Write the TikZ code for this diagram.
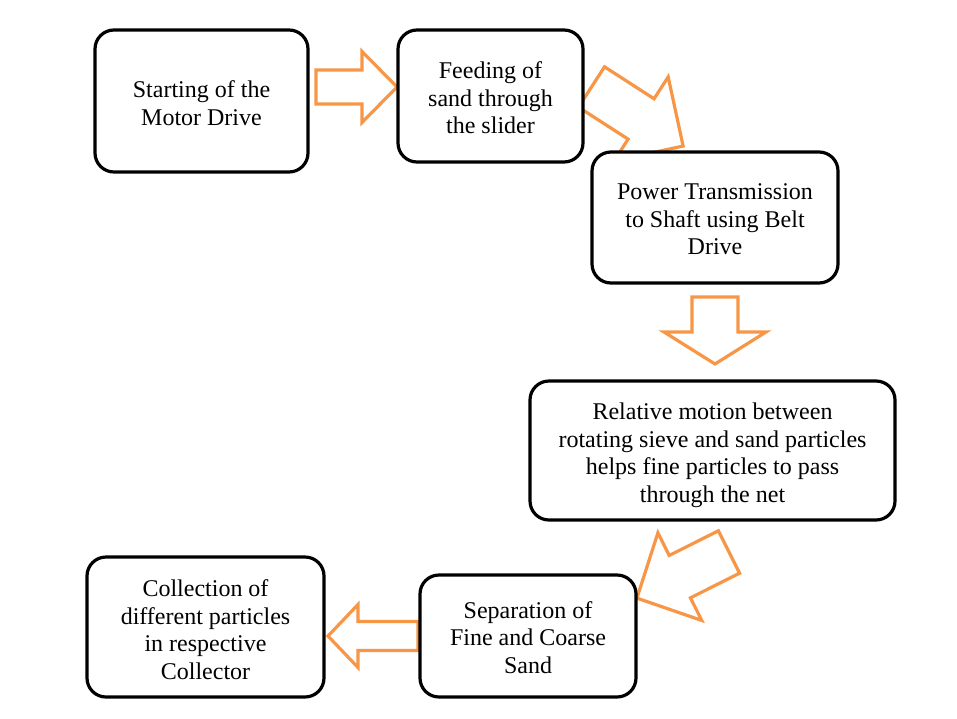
\documentclass[tikz,border=0pt]{standalone}
\usepackage{fontspec}
\setmainfont{Liberation Serif}
\definecolor{arrorange}{RGB}{247,150,70}
\tikzset{
  arr/.style={draw=arrorange, line width=3.2pt, fill=white, line join=miter},
  stepbox/.style={draw=black, line width=3.2pt, fill=white, rounded corners=19pt, inner sep=0pt},
  steptext/.style={align=center, inner sep=0pt, font=\fontsize{24}{27.5}\selectfont},
}
\newcommand\blockarrow[7]{%
  \begin{scope}[shift={(#1,#2)}, rotate=#3]
    \draw[arr] (0,-#5) -- (#7,-#5) -- (#7,-#6) -- (#4,0) -- (#7,#6) -- (#7,#5) -- (0,#5) -- cycle;
  \end{scope}}
\begin{document}
\begin{tikzpicture}[x=1pt,y=-1pt]
\useasboundingbox (0,0) rectangle (957,718);
% block arrows
\blockarrow{316}{87}{0}{81}{17}{35.5}{46}
\blockarrow{591.5}{87}{-32.8}{109}{24}{50}{59}
\blockarrow{715}{297}{-90}{67}{23}{51}{35}
\blockarrow{729}{552}{-153.4}{103}{23.7}{49}{55}
\blockarrow{418}{636}{180}{90}{14.5}{31.5}{60}
% boxes
\node[stepbox, minimum width=213pt, minimum height=142pt] (b1) at (201.5,101) {};
\node[stepbox, minimum width=185pt, minimum height=132pt] (b2) at (490.5,96) {};
\node[stepbox, minimum width=246pt, minimum height=131pt] (b3) at (715,217.5) {};
\node[stepbox, minimum width=365pt, minimum height=139pt] (b4) at (712.5,450.5) {};
\node[stepbox, minimum width=216pt, minimum height=122pt] (b5) at (528,636) {};
\node[stepbox, minimum width=237pt, minimum height=140pt] (b6) at (205.5,627) {};
% texts
\node[steptext] (t1) at ([yshift=-2pt]b1.center) {Starting of the\\Motor Drive};
\node[steptext] (t2) at ([yshift=-2pt]b2.center) {Feeding of\\sand through\\the slider};
\node[steptext] (t3) at ([yshift=-2pt]b3.center) {Power Transmission\\to Shaft using Belt\\Drive};
\node[steptext] (t4) at ([yshift=-5pt]b4.center) {Relative motion between\\rotating sieve and sand particles\\helps fine particles to pass\\through the net};
\node[steptext] (t5) at ([yshift=-1.5pt]b5.center) {Separation of\\Fine and Coarse\\Sand};
\node[steptext] (t6) at ([yshift=-2.5pt]b6.center) {Collection of\\different particles\\in respective\\Collector};
\end{tikzpicture}
\end{document}
